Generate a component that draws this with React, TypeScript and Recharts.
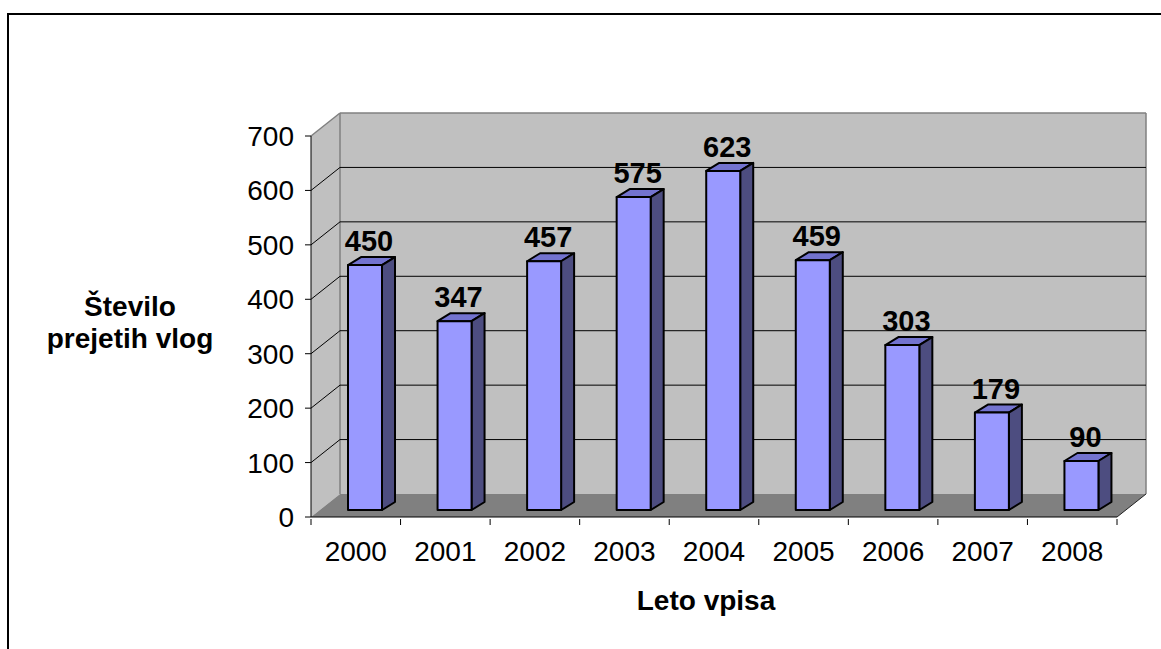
import { BarChart, Bar, XAxis, YAxis, CartesianGrid, LabelList } from "recharts";

// Excel-style 3D column chart: applications received per enrolment year.

const years = ["2000", "2001", "2002", "2003", "2004", "2005", "2006", "2007", "2008"];
const applications = [450, 347, 457, 575, 623, 459, 303, 179, 90];
const yTicks = [0, 100, 200, 300, 400, 500, 600, 700];

const data = years.map((year, i) => ({ year, applications: applications[i] }));

const FONT = "'Liberation Sans', Arial, sans-serif";

// projection of the chart's depth
const WALL_DX = 29;
const WALL_DY = 23;
const BAR_FX = 9; // front face of a column sits this far into the box
const BAR_FY = 7;
const BAR_SX = 13; // column depth
const BAR_SY = 8;

const WALL = "#C0C0C0";
const FLOOR = "#808080";
const EDGE = "#808080";

function WallLine(props: any) {
  const { x, y, width, height, y1, index } = props;
  const top = y;
  const bottom = y + height;
  const bx = x + WALL_DX;
  const isEdge = Math.abs(y1 - top) < 0.5 || Math.abs(y1 - bottom) < 0.5;
  return (
    <g key={`wall-${index}`}>
      {index === 0 && (
        <g>
          <polygon
            points={`${x},${bottom} ${bx},${bottom - WALL_DY} ${bx},${top - WALL_DY} ${x},${top}`}
            fill={WALL}
          />
          <rect x={bx} y={top - WALL_DY} width={width} height={height} fill={WALL} />
          <polygon
            points={`${x},${bottom} ${x + width},${bottom} ${bx + width},${bottom - WALL_DY} ${bx},${bottom - WALL_DY}`}
            fill={FLOOR}
          />
          <line x1={x} y1={top} x2={bx} y2={top - WALL_DY} stroke={EDGE} strokeWidth={1.5} />
          <line x1={bx} y1={top - WALL_DY} x2={bx + width} y2={top - WALL_DY} stroke={EDGE} strokeWidth={1.5} />
          <line x1={bx} y1={top - WALL_DY} x2={bx} y2={bottom - WALL_DY} stroke={EDGE} strokeWidth={1.5} />
          <line x1={bx + width} y1={top - WALL_DY} x2={bx + width} y2={bottom - WALL_DY} stroke={EDGE} strokeWidth={1.5} />
          <line x1={x + width} y1={bottom} x2={bx + width} y2={bottom - WALL_DY} stroke="#222" strokeWidth={1} />
        </g>
      )}
      {!isEdge && (
        <g stroke="#000" strokeWidth={1}>
          <line x1={x} y1={y1} x2={bx} y2={y1 - WALL_DY} />
          <line x1={bx} y1={y1 - WALL_DY} x2={bx + width} y2={y1 - WALL_DY} />
        </g>
      )}
    </g>
  );
}

function Column3D(props: any) {
  const { x, y, width, height } = props;
  if (height == null || height <= 0) return null;
  const fx = x + BAR_FX;
  const fy = y - BAR_FY;
  const bottom = fy + height;
  return (
    <g stroke="#000" strokeWidth={2} strokeLinejoin="round">
      <polygon
        points={`${fx},${fy} ${fx + BAR_SX},${fy - BAR_SY} ${fx + width + BAR_SX},${fy - BAR_SY} ${fx + width},${fy}`}
        fill="#7373CF"
      />
      <polygon
        points={`${fx + width},${fy} ${fx + width + BAR_SX},${fy - BAR_SY} ${fx + width + BAR_SX},${bottom - BAR_SY} ${fx + width},${bottom}`}
        fill="#4D4D80"
      />
      <rect x={fx} y={fy} width={width} height={height} fill="#9999FF" />
    </g>
  );
}

function ValueLabel(props: any) {
  const { x, y, width, value } = props;
  return (
    <text
      x={x + BAR_FX + width / 2 + 4}
      y={y - BAR_FY - BAR_SY - 6}
      textAnchor="middle"
      fontFamily={FONT}
      fontWeight="bold"
      fontSize={29}
      fill="#000"
    >
      {value}
    </text>
  );
}

function YearTick(props: any) {
  const { x, y, payload } = props;
  const half = payload.offset ?? 0;
  const last = payload.index === years.length - 1;
  return (
    <g>
      <line x1={x - half} y1={y} x2={x - half} y2={y + 6} stroke="#000" />
      {last && <line x1={x + half} y1={y} x2={x + half} y2={y + 6} stroke="#000" />}
      <text x={x} y={y + 42} textAnchor="middle" fontFamily={FONT} fontSize={28} fill="#000">
        {payload.value}
      </text>
    </g>
  );
}

export default function App() {
  return (
    <div style={{ position: "relative", width: 1161, height: 649, overflow: "hidden", background: "#fff" }}>
      <style>{"body{margin:0}"}</style>
      <BarChart
        width={1161}
        height={649}
        data={data}
        margin={{ top: 136, right: 44, bottom: 72, left: 251 }}
        barSize={34}
      >
        <CartesianGrid vertical={false} horizontal={WallLine} />
        <XAxis
          dataKey="year"
          height={60}
          tickLine={false}
          tickSize={0}
          axisLine={{ stroke: "#000", strokeWidth: 1 }}
          tick={YearTick}
          interval={0}
        />
        <YAxis
          type="number"
          domain={[0, 700]}
          ticks={yTicks}
          width={60}
          tickSize={6}
          tickMargin={11}
          axisLine={{ stroke: "#000", strokeWidth: 1 }}
          tickLine={{ stroke: "#000" }}
          tick={{ fontSize: 28, fill: "#000", fontFamily: FONT }}
        />
        <Bar dataKey="applications" shape={Column3D} isAnimationActive={false}>
          <LabelList dataKey="applications" content={ValueLabel} />
        </Bar>
      </BarChart>
      <svg
        width={1161}
        height={649}
        style={{ position: "absolute", left: 0, top: 0, pointerEvents: "none" }}
      >
        <rect x={8} y={14} width={1200} height={700} fill="none" stroke="#000" strokeWidth={2} />
        <g fontFamily={FONT} fontWeight="bold" fontSize={28} fill="#000" textAnchor="middle">
          <text x={130} y={316}>Število</text>
          <text x={130} y={348}>prejetih vlog</text>
          <text x={706} y={610}>Leto vpisa</text>
        </g>
      </svg>
    </div>
  );
}
